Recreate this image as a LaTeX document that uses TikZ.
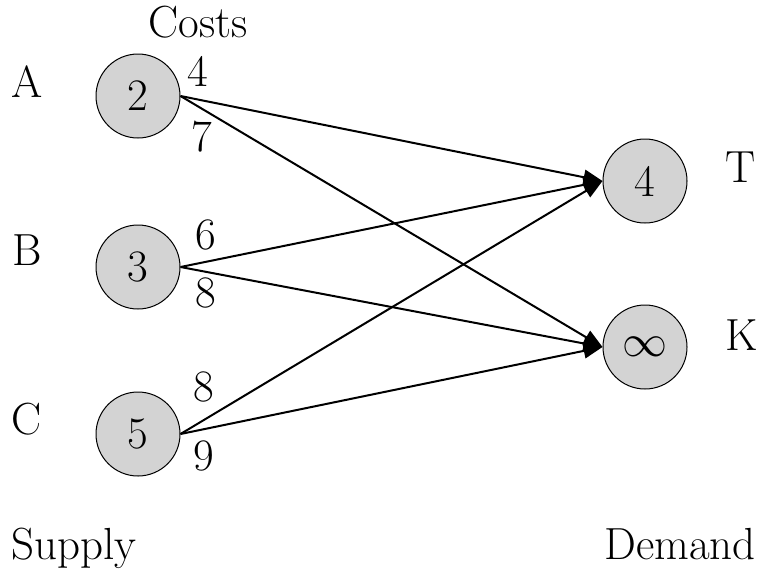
\documentclass[tikz,border=0pt]{standalone}
\usepackage{graphicx}
\usetikzlibrary{arrows.meta}
\definecolor{nodefill}{RGB}{211,211,211}
% infinity sign enlarged from the 10pt math font
\newcommand{\biginfty}{\scalebox{4.5}{\fontsize{10}{12}\selectfont$\infty$}}
\begin{document}
\begin{tikzpicture}[x=1pt,y=-1pt,
  every node/.style={font=\fontsize{45}{54}\selectfont, inner sep=0pt},
  amount/.style={circle, draw=black, line width=1pt, fill=nodefill, minimum size=84pt},
  label/.style={anchor=base},
  cost/.style={anchor=center},
  flow/.style={line width=2pt, -{Triangle[length=19pt,width=15pt]}}]
\useasboundingbox (0,0) rectangle (759,571);

% supply and demand nodes
\node[amount] (sa) at (138,96) {2};
\node[amount] (sb) at (138,267) {3};
\node[amount] (sc) at (138,434) {5};
\node[amount] (dt) at (645,181) {4};
\node[amount] (dk) at (645,347) {\biginfty};

% row and column labels
\node[label] (la) at (27,97) {A};
\node[label] (lb) at (27,265) {B};
\node[label] (lc) at (27,434) {C};
\node[label] (lt) at (741,182) {T};
\node[label] (lk) at (742,350) {K};
\node[label] (costs) at (198,37) {Costs};
\node[label] (supply) at (74,559) {Supply};
\node[label] (demand) at (680,559) {Demand};

% transport costs
\node[cost] (cat) at (198,71) {4};
\node[cost] (cak) at (202,137) {7};
\node[cost] (cbt) at (206,235) {6};
\node[cost] (cbk) at (206,293) {8};
\node[cost] (cct) at (204,387) {8};
\node[cost] (cck) at (204,456) {9};

% shipping routes
\draw[flow] (sa.east) -- (dt.west);
\draw[flow] (sa.east) -- (dk.west);
\draw[flow] (sb.east) -- (dt.west);
\draw[flow] (sb.east) -- (dk.west);
\draw[flow] (sc.east) -- (dt.west);
\draw[flow] (sc.east) -- (dk.west);
\end{tikzpicture}
\end{document}
